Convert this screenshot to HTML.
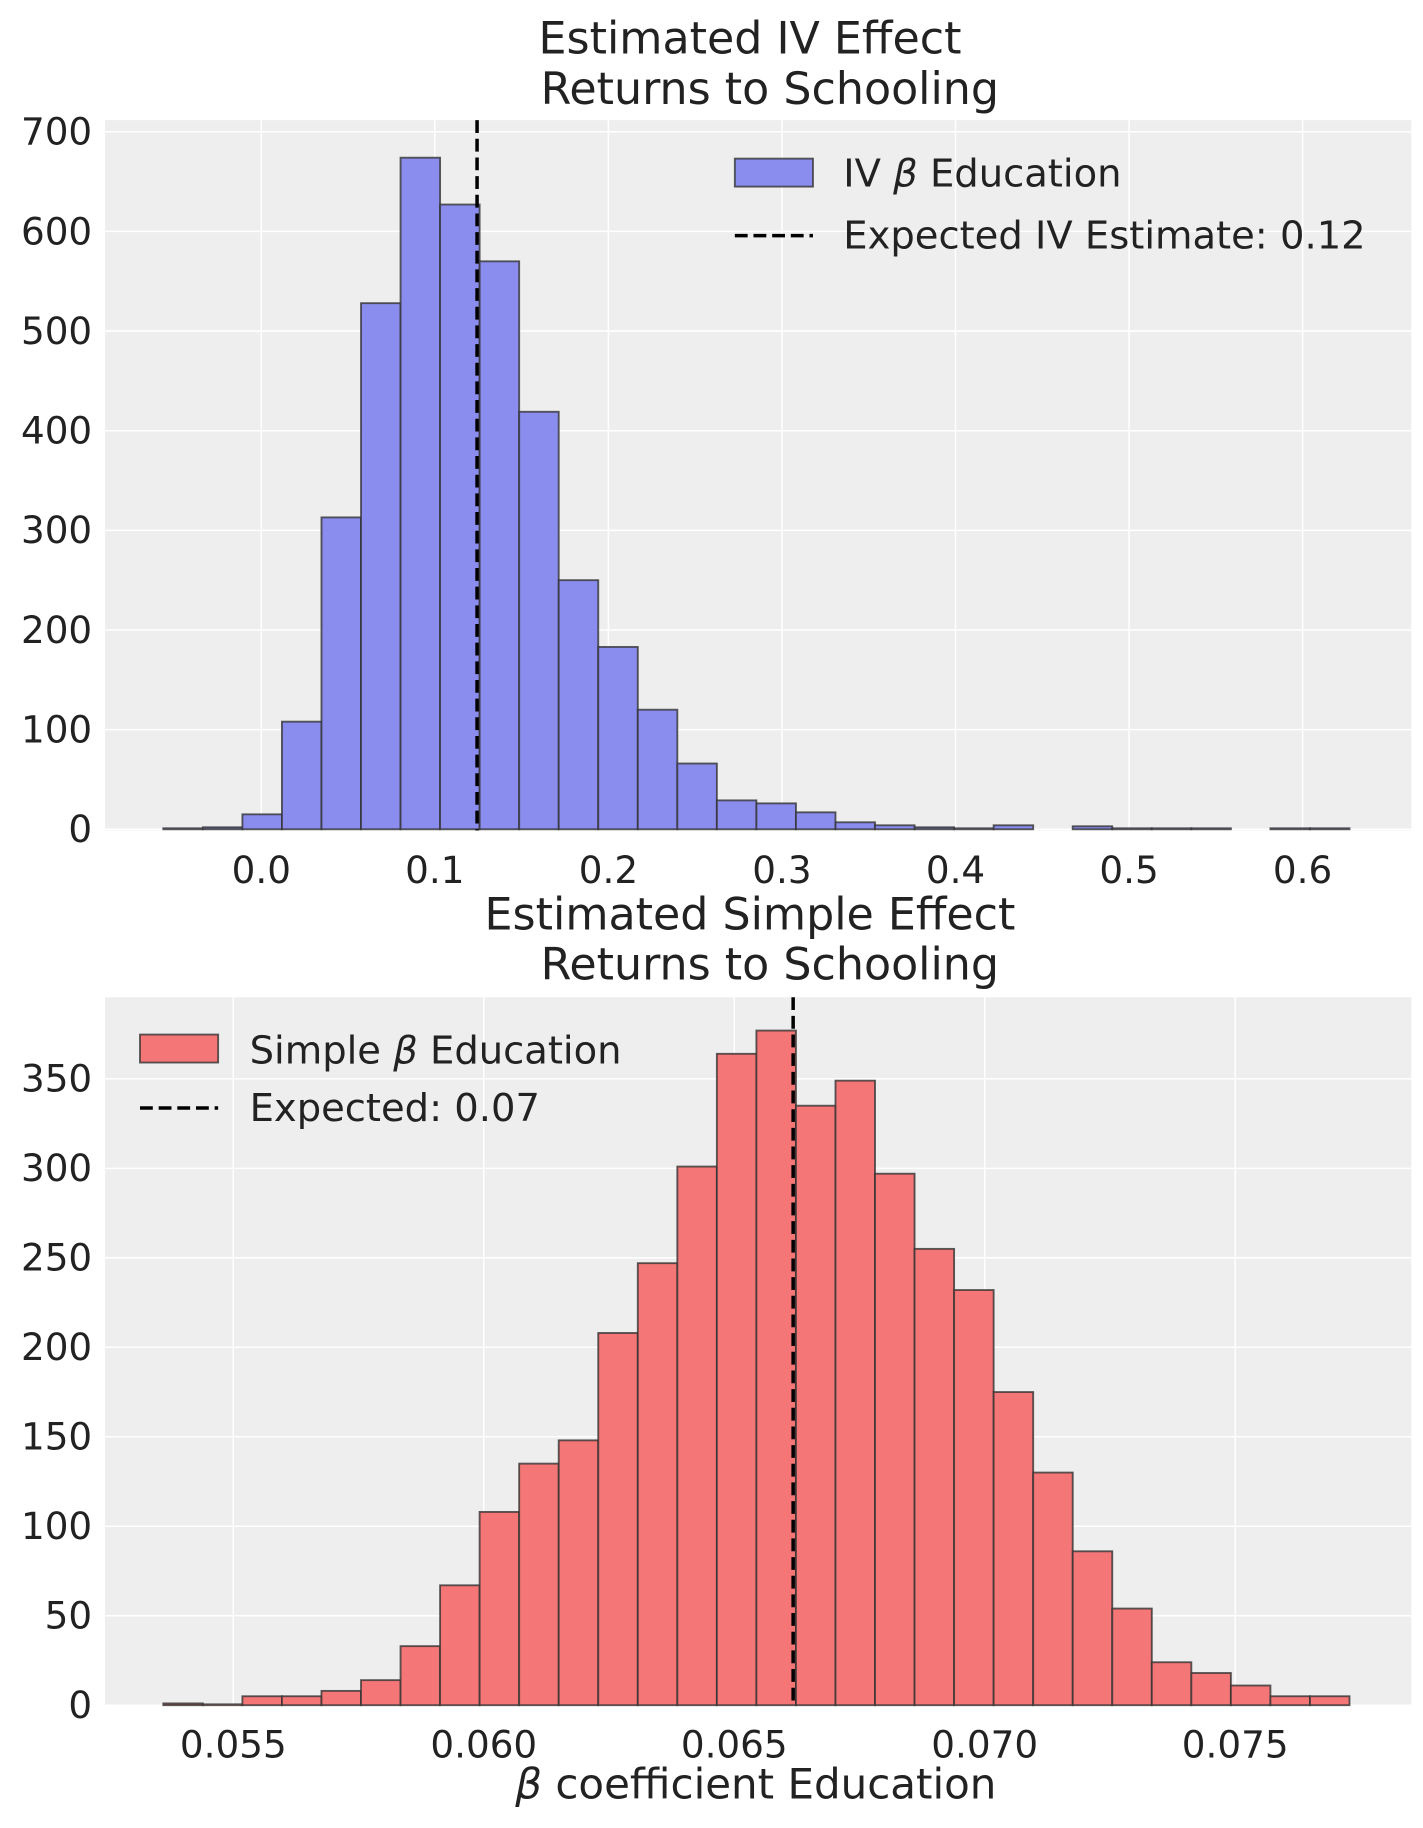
<!DOCTYPE html>
<html><head><meta charset="utf-8"><style>
html,body{margin:0;padding:0;background:#fff;}
svg text{font-family:"DejaVu Sans","Liberation Sans",sans-serif;fill:#222;}
</style></head><body>
<svg id="s" width="1423" height="1823" viewBox="0 0 1220 1563" xmlns="http://www.w3.org/2000/svg"></svg>
<script>
const s=document.getElementById('s');let h='';
function ax(top,bot,yticks,y0,ypx,xticks,bins,color){
  h+=`<rect x="90" y="${top}" width="1120" height="${bot-top}" fill="#eeeeee"/>`;
  for(const t of yticks){const y=y0-t*ypx;h+=`<line x1="90" x2="1210" y1="${y}" y2="${y}" stroke="#fff" stroke-width="1.3"/><text x="79" y="${y+11}" font-size="32" text-anchor="end">${t}</text>`;}
  for(const [x,l] of xticks){h+=`<line x1="${x}" x2="${x}" y1="${top}" y2="${bot}" stroke="#fff" stroke-width="1.3"/><text x="${x}" y="${bot+45}" font-size="32" text-anchor="middle">${l}</text>`;}
  const w=(1157-140)/30;
  bins.forEach((v,i)=>{if(v<=0)return;const x=140+i*w,hh=v*ypx;h+=`<rect x="${x}" y="${y0-hh}" width="${w}" height="${hh}" fill="${color}" stroke="#333" stroke-opacity="0.8" stroke-width="1.6"/>`;});
}
const dash='stroke="#000" stroke-width="3" stroke-dasharray="11,5"';
ax(103,712,[0,100,200,300,400,500,600,700],711,0.8543,
 [0,1,2,3,4,5,6].map(k=>[224+148.8*k,(k/10).toFixed(1)]),
 [1,2,15,108,313,528,674,627,570,419,250,183,120,66,29,26,17,7,4,2,1,4,0,3,1,1,1,0,1,1],'#8a8cee');
h+=`<line x1="409" x2="409" y1="103" y2="712" ${dash}/>`;
h+=`<rect x="630" y="136" width="67" height="24" fill="#8a8cee" stroke="#333" stroke-opacity="0.8" stroke-width="1.6"/><text x="723" y="160" font-size="33">IV <tspan font-style="italic">β</tspan> Education</text>`;
h+=`<line x1="630" x2="697" y1="202" y2="202" ${dash}/><text x="723" y="213" font-size="33">Expected IV Estimate: 0.12</text>`;
h+=`<text x="643" y="46" font-size="38" text-anchor="middle">Estimated IV Effect</text><text x="660" y="89" font-size="38" text-anchor="middle">Returns to Schooling</text>`;
ax(855,1462,[0,50,100,150,200,250,300,350],1462,1.5343,
 [0,1,2,3,4].map(k=>[200+214.75*k,(0.055+0.005*k).toFixed(3)]),
 [1,0.5,5,5,8,14,33,67,108,135,148,208,247,301,364,377,335,349,297,255,232,175,130,86,54,24,18,11,5,5],'#f47676');
h+=`<line x1="680" x2="680" y1="855" y2="1462" ${dash}/>`;
h+=`<rect x="120" y="887" width="67" height="24" fill="#f47676" stroke="#333" stroke-opacity="0.8" stroke-width="1.6"/><text x="214" y="912" font-size="33">Simple <tspan font-style="italic">β</tspan> Education</text>`;
h+=`<line x1="120" x2="187" y1="950" y2="950" ${dash}/><text x="214" y="961" font-size="33">Expected: 0.07</text>`;
h+=`<text x="643" y="797" font-size="38" text-anchor="middle">Estimated Simple Effect</text><text x="660" y="840" font-size="38" text-anchor="middle">Returns to Schooling</text>`;
h+=`<text x="648" y="1542" font-size="36" text-anchor="middle"><tspan font-style="italic">β</tspan> coefficient Education</text>`;
s.innerHTML=h;
</script>
</body></html>
